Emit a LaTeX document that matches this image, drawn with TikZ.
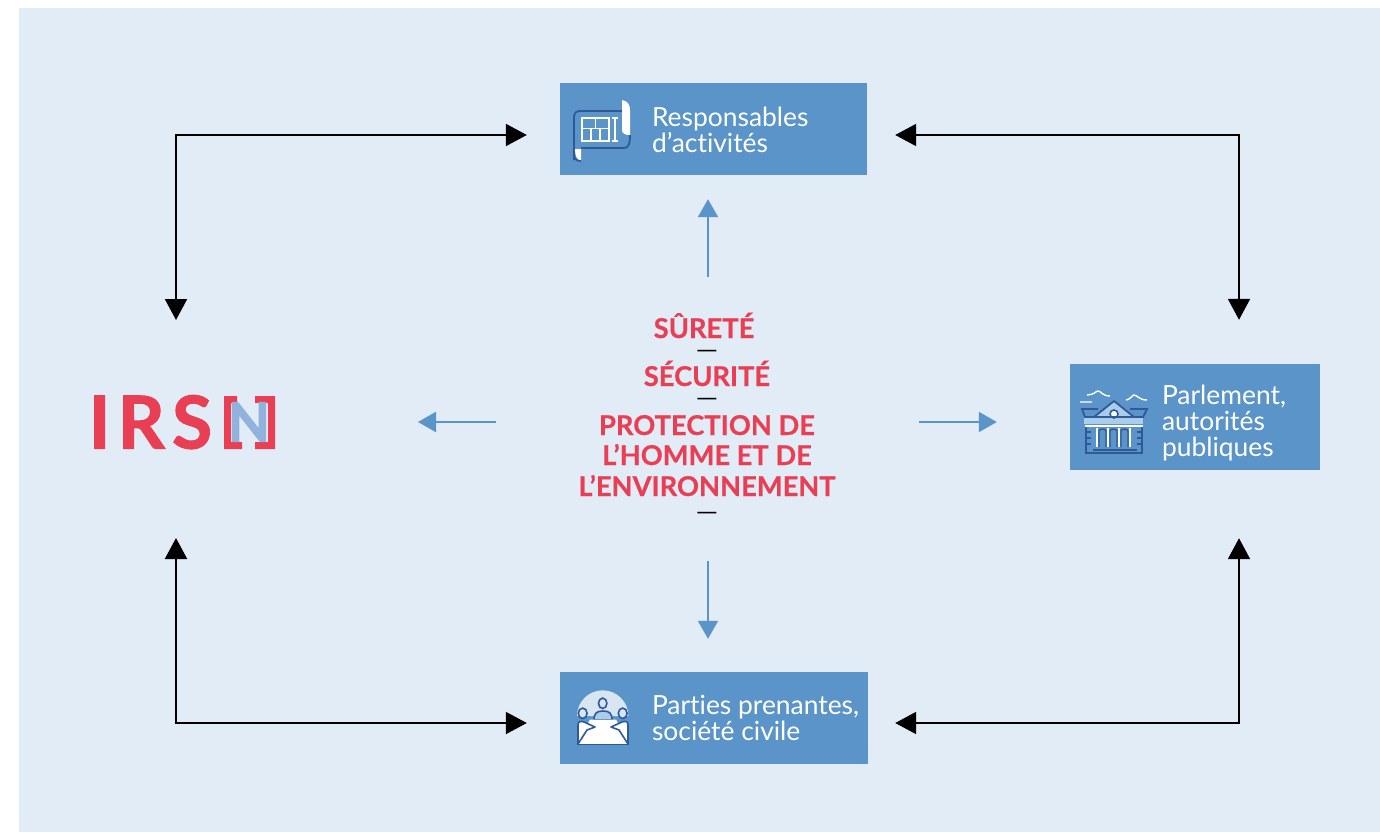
\documentclass[tikz,border=0pt]{standalone}
\usepackage{fontspec}
\setmainfont{Lato}[Ligatures=NoCommon]
\usepackage{tikz}
\usetikzlibrary{arrows.meta,positioning}
\definecolor{fond}{HTML}{E2ECF7}
\definecolor{bloc}{HTML}{5A94C8}
\definecolor{rouge}{HTML}{E83F55}
\definecolor{bleuN}{HTML}{90B2DC}
\definecolor{sombre}{HTML}{2F5A97}
\definecolor{clair}{HTML}{A9CDEA}
\definecolor{pale}{HTML}{D8E6F3}
\tikzset{
  bloc/.style={fill=bloc,inner sep=0pt},
  bloctxt/.style={anchor=west,inner sep=0pt,text=white,align=left,
    font=\fontsize{26.4}{26}\selectfont},
  titre/.style={anchor=base,inner sep=0pt,text=rouge,
    font=\fontsize{27.3}{30}\selectfont\bfseries\addfontfeature{FakeBold=0.5}},
  tiret/.style={anchor=base,inner sep=0pt,text=black,
    font=\fontsize{18}{20}\selectfont\bfseries\addfontfeature{FakeStretch=1.55}},
  logo/.style={inner sep=0pt,text=rouge,text height=53pt,text depth=0pt,
    font=\fontsize{73}{73}\selectfont\bfseries\addfontfeature{FakeBold=1.5}},
  pfeil/.style={line width=2pt,{Triangle[width=22pt,length=21pt]}-{Triangle[width=22pt,length=21pt]}},
  bfeil/.style={line width=2pt,draw=bloc,-{Triangle[width=20pt,length=18pt]},bloc},
  % icones (coordonnees en pixels de l'image)
  icoplan/.pic={
    \draw[sombre,line width=1.8pt,rounded corners=5pt] (622,111) -- (574,111) -- (574,160);
    \fill[white] (575,149) -- (581,149) -- (581,161) .. controls (577,160) and (575,156) .. (575,149);
    \draw[sombre,line width=1.8pt] (574,155) .. controls (574,159) and (577,161) .. (581,161);
    \draw[sombre,line width=1.8pt] (581,148) -- (624,148) .. controls (628,148) and (630,145) .. (630,135);
    \fill[white] (622,100) .. controls (628,101) and (630,105) .. (630,110) -- (630,135)
      .. controls (626,135) and (622,134) .. (622,130) -- cycle;
    \draw[white,line width=1.4pt] (582,118) rectangle (609,141)
      (582,128.7) -- (609,128.7) (595.7,118) -- (595.7,128.7)
      (591,128.7) -- (591,141) (600,128.7) -- (600,141)
      (615,118) -- (615,141) (612,118) -- (618,118) (612,141) -- (618,141);
  },
  icoparl/.pic={
    \draw[white,line width=1.4pt] (1080,402) -- (1092,402)
      (1087,395) .. controls (1094,395) and (1096,391) .. (1098,391)
      .. controls (1101,391) and (1102,396) .. (1110,396)
      (1126,400) .. controls (1130,400) and (1132,395) .. (1134,395)
      .. controls (1137,395) and (1139,400) .. (1147,400);
    \fill[clair] (1084,417) rectangle (1143,424);
    \draw[sombre,line width=1.8pt,fill=clair,line join=round] (1114,401) -- (1134,417) -- (1094,417) -- cycle;
    \draw[sombre,line width=1.6pt,fill=white] (1114,414) circle (4pt);
    \draw[sombre,line width=1.8pt] (1098,409) -- (1082,409) -- (1085,417) -- (1143,417) -- (1147,409) -- (1130,409);
    \draw[white,line width=1.4pt] (1085,426) -- (1143,426);
    \foreach \xc in {1097,1108,1119,1130}
      \draw[white,line width=1.6pt] (\xc,447) -- (\xc,428);
    \foreach \xc in {1099,1110,1121}
      \draw[sombre,line width=1.4pt] (\xc,447) -- (\xc,431) .. controls (\xc,428.5) and (\xc+7,428.5) .. (\xc+7,431) -- (\xc+7,447);
    \draw[sombre,line width=1.8pt] (1086,427) -- (1086,453) -- (1142,453) -- (1142,427)
      (1093,450) -- (1137,450);
    \foreach \yc in {432,438,444}
      \draw[sombre,line width=1.2pt] (1086,\yc) -- (1091,\yc) (1137,\yc) -- (1142,\yc);
  },
  icoreun/.pic={
    \fill[pale] (577,716) arc[start angle=180,end angle=0,radius=25.7pt] -- cycle;
    \draw[sombre,line width=1.6pt,fill=pale] (602.7,703.3) ellipse (4.2pt and 5.2pt);
    \draw[sombre,line width=1.6pt,fill=clair] (594,720) .. controls (594,713) and (597,711) .. (603,711)
      .. controls (609,711) and (612,713) .. (612,720) -- cycle;
    \fill[white] (590,719.5) -- (616,719.5) -- (629,744) -- (577,744) -- cycle;
    % personnes de chaque cote
    \draw[sombre,line width=1.6pt,fill=pale] (582.7,713.3) ellipse (4.4pt and 5.2pt)
      (622.7,713.3) ellipse (4.4pt and 5.2pt);
    \draw[sombre,line width=1.6pt,fill=white,line join=round] (578,744) -- (578,725) .. controls (578,721) and (581,721) .. (584,722)
      -- (595,727) -- (587,730) -- cycle;
    \draw[sombre,line width=1.6pt,fill=white,line join=round] (628,744) -- (628,725) .. controls (628,721) and (625,721) .. (622,722)
      -- (611,727) -- (619,730) -- cycle;
    \draw[sombre,line width=1.6pt] (577,744.5) -- (629,744.5);
  },
}
\begin{document}
\begin{tikzpicture}[x=1pt,y=-1pt]
  \useasboundingbox (0,0) rectangle (1380,832);
  \fill[fond] (19,8) rectangle (1380,832);
% blocs
  \node[bloc,minimum width=307pt,minimum height=92pt] (R) at (713.5,129) {};
  \node[bloc,minimum width=308pt,minimum height=92pt] (P) at (714,718) {};
  \node[bloc,minimum width=250pt,minimum height=106pt] (A) at (1195,417) {};
  \node[bloctxt] (Rt) at ([xshift=92pt,yshift=-1pt]R.west) {Responsables\\d’activités};
  \node[bloctxt] (Pt) at ([xshift=92pt]P.west) {Parties prenantes,\\société civile};
  \node[bloctxt] (At) at ([xshift=92pt,yshift=-6pt]A.west) {Parlement,\\autorités\\publiques};
  \pic {icoplan};
  \pic {icoparl};
  \pic {icoreun};
% logo
  \fill[rouge] (224,396) rectangle (231,449) (224,396) rectangle (237,403)
    (224,442) rectangle (242,449) (268,396) rectangle (275,449)
    (255,396) rectangle (275,403) (255,442) rectangle (275,449);
  \node[logo,anchor=center] (IRS) at (150.5,422) {\addfontfeature{LetterSpace=10}IRS};
  \node[logo,text=bleuN,text height=39pt,anchor=center,font=\fontsize{54}{54}\selectfont\bfseries\addfontfeature{FakeBold=2}] (N) at (249,422) {N};
% texte central
  \foreach \n/\x/\y/\t in {sur/704/338/SÛRETÉ,sec/707/386/SÉCURITÉ,pro/707/435/PROTECTION DE,hom/707/465/L’HOMME ET DE,env/707/496/L’ENVIRONNEMENT}
    \node[titre] (\n) at (\x,\y) {\t};
  \foreach \n/\y in {d1/356,d2/404,d3/518}
    \node[tiret] (\n) at (707,\y) {—};
% fleches noires
  \draw[pfeil] ([xshift=-33pt,yshift=-6pt]R.west) -| ([xshift=25.5pt,yshift=102pt]IRS.center);
  \draw[pfeil] ([xshift=-33pt,yshift=-5pt]P.west) -| ([xshift=25.5pt,yshift=-116pt]IRS.center);
  \draw[pfeil] ([xshift=28pt,yshift=-6pt]R.east) -| ([xshift=44pt,yshift=44pt]A.north);
  \draw[pfeil] ([xshift=27pt,yshift=-5pt]P.east) -| ([xshift=44pt,yshift=-68pt]A.south);
% fleches bleues
  \draw[bfeil] ([xshift=4pt,yshift=61pt]sur.base) -- ([xshift=-5.5pt,yshift=-24pt]R.south);
  \draw[bfeil] ([xshift=1pt,yshift=-43pt]d3.base) -- ([xshift=-6pt,yshift=33pt]P.north);
  \draw[bfeil] ([xshift=-211pt,yshift=13pt]pro.base) -- ([xshift=169pt]N.center);
  \draw[bfeil] ([xshift=212pt,yshift=13pt]pro.base) -- ([xshift=-73pt,yshift=-5pt]A.west);
\end{tikzpicture}
\end{document}
